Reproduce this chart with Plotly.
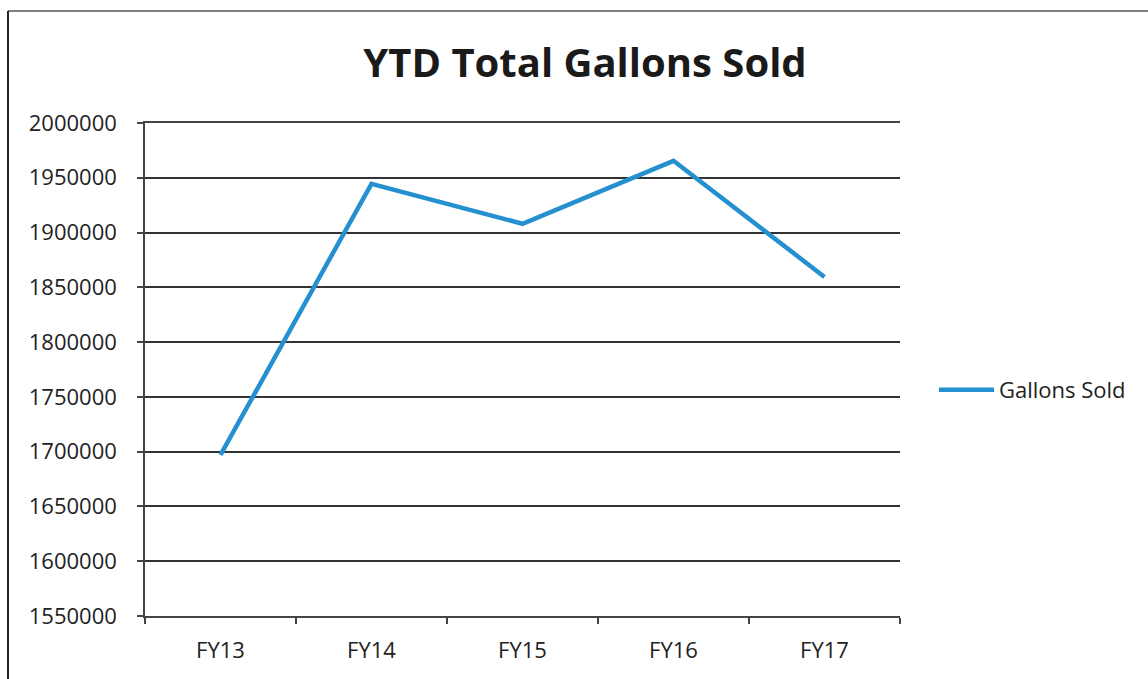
import plotly.graph_objects as go

# Fiscal years and year-to-date gallons sold
years = ["FY13", "FY14", "FY15", "FY16", "FY17"]
gallons_sold = [1697000, 1944500, 1908000, 1965500, 1859500]

y_ticks = list(range(1550000, 2000001, 50000))

W, H = 1148, 679
L, R, T, B = 145, 248, 123, 63
plot_w = W - L - R
plot_h = H - T - B

def px_x(px):
    return (px - L) / plot_w

def px_y(py):
    return (H - B - py) / plot_h

font_family = "Open Sans, Lato, DejaVu Sans, sans-serif"

fig = go.Figure()
fig.add_trace(go.Scatter(
    x=years,
    y=gallons_sold,
    mode="lines",
    name="Gallons Sold",
    line=dict(color="#2590d0", width=4.5),
))

fig.update_layout(
    width=W,
    height=H,
    margin=dict(l=L, r=R, t=T, b=B),
    paper_bgcolor="white",
    plot_bgcolor="white",
    font=dict(family=font_family, size=22, color="#222222"),
    title=dict(
        text="<b>YTD Total Gallons Sold</b>",
        x=585 / W, xanchor="center",
        y=1 - 63 / H, yanchor="middle",
        font=dict(size=40, color="#1a1a1a", family=font_family),
    ),
    showlegend=True,
    legend=dict(
        x=px_x(934), y=px_y(390),
        xanchor="left", yanchor="middle",
        font=dict(size=22, color="#222222"),
        bgcolor="rgba(0,0,0,0)",
        itemwidth=55,
    ),
    xaxis=dict(
        type="category",
        range=[-0.5, 4.5],
        showgrid=False,
        showline=True, linecolor="#444444", linewidth=1.5,
        mirror=True,
        ticks="outside", tickson="boundaries", ticklen=6,
        tickcolor="#444444", tickwidth=1.5,
        tickfont=dict(size=22),
        ticklabelstandoff=14,
        zeroline=False,
    ),
    yaxis=dict(
        range=[1550000, 2000000],
        tickvals=y_ticks,
        ticktext=[str(v) for v in y_ticks],
        showgrid=True, gridcolor="#333333", gridwidth=1.5,
        showline=True, linecolor="#444444", linewidth=1.5,
        ticks="outside", ticklen=6, tickcolor="#444444", tickwidth=1.5,
        tickfont=dict(size=22),
        ticklabelstandoff=16,
        zeroline=False,
    ),
)

# Chart frame: top and left edges
fig.add_shape(type="line", xref="paper", yref="paper",
              x0=px_x(8), x1=px_x(1148), y0=px_y(11), y1=px_y(11),
              line=dict(color="#555555", width=1.5))
fig.add_shape(type="line", xref="paper", yref="paper",
              x0=px_x(8), x1=px_x(8), y0=px_y(11), y1=px_y(679),
              line=dict(color="#222222", width=2))

fig.write_html("out.html")
